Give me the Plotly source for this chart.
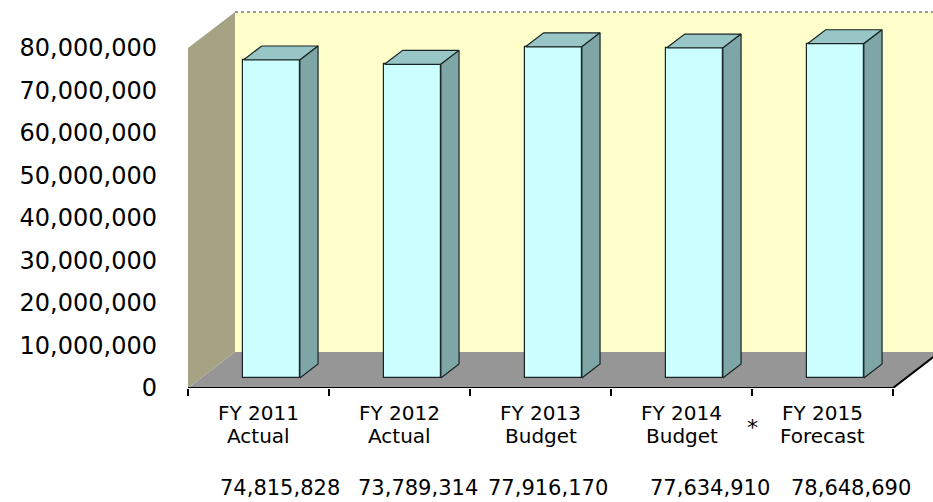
import plotly.graph_objects as go

# ---- data ----
fiscal_years = ["FY 2011", "FY 2012", "FY 2013", "FY 2014", "FY 2015"]
scenarios = ["Actual", "Actual", "Budget", "Budget", "Forecast"]
totals = [74815828, 73789314, 77916170, 77634910, 78648690]
y_tick_values = [0, 10000000, 20000000, 30000000, 40000000,
                 50000000, 60000000, 70000000, 80000000]

# ---- 3-D box geometry (axis units) ----
N = len(totals)
Y_TOP = 80000000                 # height of the walls
DEPTH_X = 1 / 3                  # horizontal depth offset of the back wall (categories)
DEPTH_Y = 36 * 80000000 / 340    # vertical depth offset of the back wall (value units)
BAR_W = 0.4
BAR_D0, BAR_D1 = 0.28, 0.667     # bar front / back position along the depth

WALL = "#FFFFCC"
SIDE_WALL = "#A5A384"
FLOOR = "#969696"
BAR_FRONT = "#CCFFFF"
BAR_TOP = "#98C6C6"
BAR_SIDE = "#7FA6A6"
EDGE = "#1a2424"
FONT = "DejaVu Sans"

fig = go.Figure()

# bar geometry derived from the values
base = BAR_D0 * DEPTH_Y
ddx = (BAR_D1 - BAR_D0) * DEPTH_X
ddy = (BAR_D1 - BAR_D0) * DEPTH_Y
centers = [i + 0.5 + BAR_D0 * DEPTH_X for i in range(N)]

for c, v in zip(centers, totals):
    xl, xr = c - BAR_W / 2, c + BAR_W / 2
    yt = base + v
    # top face
    fig.add_trace(go.Scatter(
        x=[xl, xr, xr + ddx, xl + ddx, xl],
        y=[yt, yt, yt + ddy, yt + ddy, yt],
        fill="toself", fillcolor=BAR_TOP, mode="lines",
        line=dict(color=EDGE, width=1.2), hoverinfo="skip", showlegend=False))
    # right side face
    fig.add_trace(go.Scatter(
        x=[xr, xr + ddx, xr + ddx, xr, xr],
        y=[base, base + ddy, yt + ddy, yt, base],
        fill="toself", fillcolor=BAR_SIDE, mode="lines",
        line=dict(color=EDGE, width=1.2), hoverinfo="skip", showlegend=False))

# front faces
fig.add_trace(go.Bar(
    x=centers, y=totals, base=[base] * N, width=BAR_W,
    marker=dict(color=BAR_FRONT, line=dict(color=EDGE, width=1.2)),
    hoverinfo="skip", showlegend=False))

shapes = [
    # back wall
    dict(type="rect", xref="x", yref="y", x0=DEPTH_X, x1=N + 2,
         y0=DEPTH_Y, y1=Y_TOP + DEPTH_Y, fillcolor=WALL,
         line=dict(width=0), layer="below"),
    dict(type="line", xref="x", yref="y", x0=DEPTH_X, x1=N + 2,
         y0=Y_TOP + DEPTH_Y, y1=Y_TOP + DEPTH_Y,
         line=dict(color="#9a9a9a", width=2, dash="dot"), layer="below"),
    # floor
    dict(type="path", xref="x", yref="y",
         path=f"M 0,0 L {N},0 L {N + DEPTH_X},{DEPTH_Y} L {DEPTH_X},{DEPTH_Y} Z",
         fillcolor=FLOOR, line=dict(width=0), layer="below"),
    # side wall
    dict(type="path", xref="x", yref="y",
         path=f"M 0,0 L 0,{Y_TOP} L {DEPTH_X},{Y_TOP + DEPTH_Y} L {DEPTH_X},{DEPTH_Y} Z",
         fillcolor=SIDE_WALL, line=dict(width=0), layer="below"),
    # floor front edge and right edge
    dict(type="path", xref="x", yref="y",
         path=f"M 0,0 L {N},0 L {N + DEPTH_X},{DEPTH_Y}",
         line=dict(color="black", width=2), layer="above"),
]

annotations = []
for i in range(N):
    annotations.append(dict(x=i + 0.5, y=-39 / 388, xref="x", yref="paper",
                            text=fiscal_years[i], showarrow=False,
                            font=dict(family=FONT, size=20, color="black")))
    annotations.append(dict(x=i + 0.5, y=-62 / 388, xref="x", yref="paper",
                            text=scenarios[i], showarrow=False,
                            font=dict(family=FONT, size=20, color="black")))

# totals row beneath the categories
total_offsets = [0.15, 0.13, 0.05, 0.2, 0.2]
for i, (v, off) in enumerate(zip(totals, total_offsets)):
    annotations.append(dict(x=i + 0.5 + off, y=-114 / 388, xref="x", yref="paper",
                            text=f"{v:,}", showarrow=False,
                            font=dict(family=FONT, size=21, color="black")))

annotations.append(dict(x=4, y=-54 / 388, xref="x", yref="paper", text="*",
                        showarrow=False, font=dict(family=FONT, size=22, color="black")))

fig.update_layout(
    width=933, height=502,
    margin=dict(l=188, r=0, t=0, b=114),
    paper_bgcolor="white", plot_bgcolor="white",
    shapes=shapes, annotations=annotations,
    bargap=0, showlegend=False,
    xaxis=dict(range=[0, 745 / 141], showgrid=False, zeroline=False,
               showline=False, tickvals=list(range(N + 1)),
               ticktext=[""] * (N + 1), ticks="outside", ticklen=7,
               tickwidth=2, tickcolor="black", fixedrange=True),
    yaxis=dict(range=[0, 80000000 * 388 / 340], showgrid=False,
               zeroline=False, showline=False, tickvals=y_tick_values,
               ticktext=[f"{t:,}" for t in y_tick_values], ticks="",
               ticklabelstandoff=30,
               tickfont=dict(family=FONT, size=24, color="black"),
               fixedrange=True),
)

fig.write_html("out.html", config={"displayModeBar": False})
